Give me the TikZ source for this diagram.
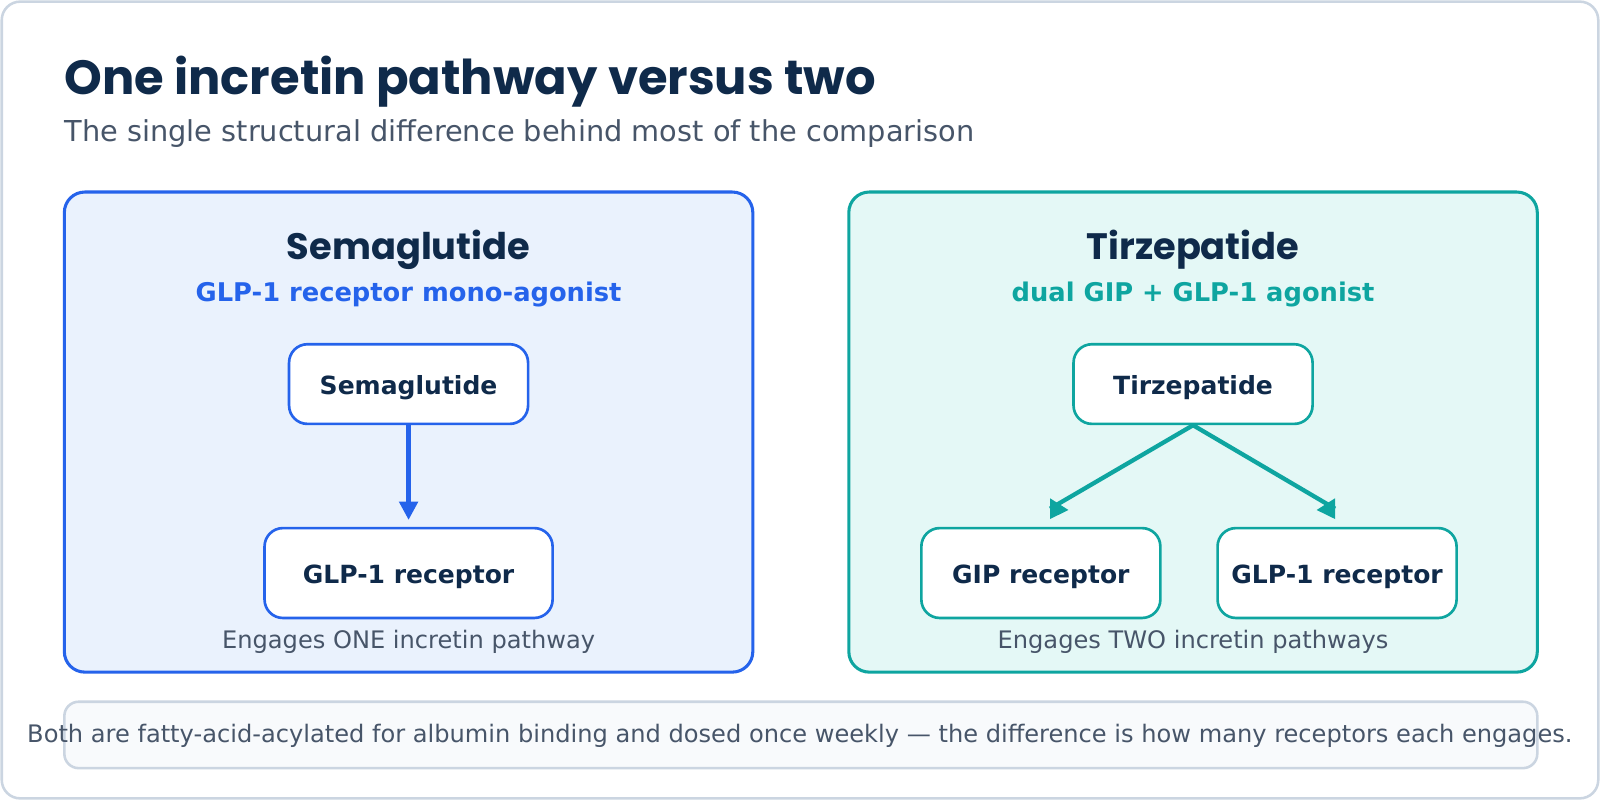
\documentclass[tikz,border=0pt]{standalone}
\usepackage{fontspec}
\setmainfont{DejaVu Sans}
\newfontfamily\poppins{Poppins}
\usetikzlibrary{arrows.meta}
\definecolor{navy}{HTML}{0F2A4A}
\definecolor{slate}{HTML}{475569}
\definecolor{bblue}{HTML}{2563EB}
\definecolor{bfill}{HTML}{EAF2FD}
\definecolor{teal}{HTML}{0EA5A0}
\definecolor{tfill}{HTML}{E4F8F6}
\definecolor{frame}{HTML}{CBD5E1}
\definecolor{foot}{HTML}{F8FAFC}
\newcommand{\fs}[1]{\fontsize{#1}{#1}\selectfont}
\tikzset{
  panel/.style={draw, line width=3pt, rounded corners=20pt, inner sep=0pt},
  nodebox/.style={draw, fill=white, line width=2.6pt, rounded corners=18pt, inner sep=0pt,
    text height=20pt, text depth=0pt, text=navy, font=\fs{24.5}\bfseries},
  ptitle/.style={text=navy, font=\poppins\fs{36}\bfseries, inner sep=0pt},
  psub/.style={font=\fs{25.2}\bfseries, inner sep=0pt},
  caption/.style={text=slate, font=\fs{23.6}, inner sep=0pt},
  arr/.style={line width=4.2pt, -{Triangle[length=18pt,width=18pt]}},
  plainarr/.style={line width=4.2pt},
}
\begin{document}
\begin{tikzpicture}[x=1pt,y=-1pt]
\useasboundingbox (0,0) rectangle (1566.4,783.2);
\node[draw=frame, fill=white, line width=2.5pt, rounded corners=18pt, minimum width=1563pt, minimum height=780pt, inner sep=0pt] (outer) at (783.2,391.6) {};
\node[anchor=base west, inner sep=0pt, text=navy, font=\poppins\fs{47}\bfseries] (title) at (63,93) {One incretin pathway versus two};
\node[anchor=base west, inner sep=0pt, text=slate, font=\fs{28.2}] (subtitle) at (63,139) {The single structural difference behind most of the comparison};
% panels
\node[panel, draw=bblue, fill=bfill, minimum width=674pt, minimum height=470pt] (lp) at (400,423) {};
\node[panel, draw=teal, fill=tfill, minimum width=674pt, minimum height=470pt] (rp) at (1168,423) {};
\node[ptitle, anchor=base] (lt) at (400,254) {Semaglutide};
\node[psub, anchor=base, text=bblue] (ls) at (400,295) {GLP-1 receptor mono-agonist};
\node[ptitle, anchor=base] (rt) at (1168,254) {Tirzepatide};
\node[psub, anchor=base, text=teal] (rs) at (1168,295) {dual GIP + GLP-1 agonist};
% left graph
\node[nodebox, draw=bblue, minimum width=234pt, minimum height=78pt] (sema) at (400,376) {Semaglutide};
\node[nodebox, draw=bblue, minimum width=282pt, minimum height=88pt] (glpl) at (400,561) {GLP-1 receptor};
\coordinate (la) at (400,509);
\draw[arr, bblue] (sema.south) -- (la);
\node[caption, anchor=base] (lc) at (400,635) {Engages ONE incretin pathway};
% right graph
\node[nodebox, draw=teal, minimum width=234pt, minimum height=78pt] (tirz) at (1168,376) {Tirzepatide};
\node[nodebox, draw=teal, minimum width=234pt, minimum height=88pt] (gip) at (1019,561) {GIP receptor};
\node[nodebox, draw=teal, minimum width=234pt, minimum height=88pt] (glpr) at (1309,561) {GLP-1 receptor};
\coordinate (ra1) at (1028,498);
\coordinate (ra2) at (1307,498);
\draw[plainarr, teal] (tirz.south) -- (ra1);
\draw[plainarr, teal] (tirz.south) -- (ra2);
\fill[teal] (ra1) +(0,-10.2) -- +(0,10.1) -- +(18,1.3) -- cycle;
\fill[teal] (ra2) +(0,-10.2) -- +(0,10.1) -- +(-18,1.3) -- cycle;
\node[caption, anchor=base] (rc) at (1168,635) {Engages TWO incretin pathways};
% footer
\node[draw=frame, fill=foot, line width=2.5pt, rounded corners=14pt, minimum width=1442pt, minimum height=65pt, inner sep=0pt] (fbox) at (784,719.5) {};
\node[caption, anchor=base] (ftext) at (783,727) {Both are fatty-acid-acylated for albumin binding and dosed once weekly — the difference is how many receptors each engages.};
\end{tikzpicture}
\end{document}
